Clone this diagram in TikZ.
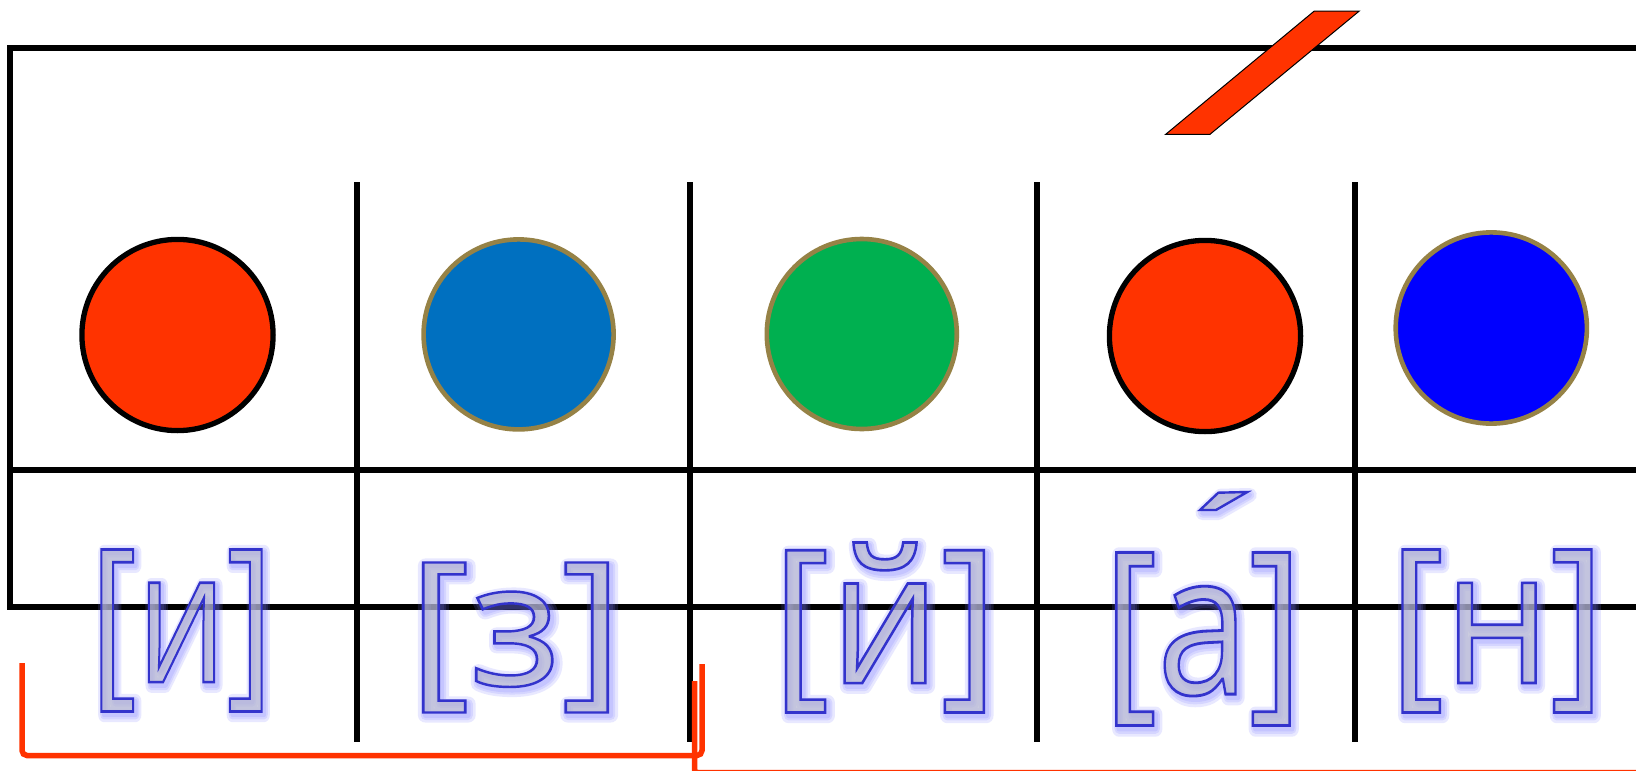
\documentclass[tikz,border=0pt]{standalone}
\usepackage{fontspec}
\setmainfont{Open Sans}
\usepackage{graphicx}
\definecolor{redor}{RGB}{255,51,0}
\definecolor{steel}{RGB}{0,112,192}
\definecolor{grn}{RGB}{0,176,80}
\definecolor{pureblue}{RGB}{0,0,255}
\definecolor{olivebd}{RGB}{150,130,70}
\definecolor{lav}{RGB}{182,183,210}
\definecolor{wablue}{RGB}{51,51,204}
\definecolor{glowblue}{RGB}{120,120,255}
\newcommand\glowtxt[1]{\rlap{\special{pdf:literal direct 0.47 0.47 1 RG 1 j 14 w 1 Tr}#1}\rlap{\special{pdf:literal direct 9 w}#1}\special{pdf:literal direct 5 w}#1\special{pdf:literal direct 0 Tr 1 w}}
\newcommand\maintxt[1]{\special{pdf:literal direct 0.2 0.2 0.8 RG 0 j 2.4 w 2 Tr}#1\special{pdf:literal direct 0 Tr 1 w}}
\newcommand\wordart[6]{%
  \begin{scope}[draw opacity=0.17]
    \node[watext, xshift=2.5pt, yshift=-3pt] (#1g) at (#2,#3) {\resizebox*{#4pt}{#5pt}{\glowtxt{#6}}};
  \end{scope}
  \begin{scope}[fill opacity=0.72]
    \node[watext] (#1) at (#2,#3) {\resizebox*{#4pt}{#5pt}{\maintxt{#6}}};
  \end{scope}}
\tikzset{
  frameline/.style={line width=5.3pt},
  redcirc/.style={line width=5.3pt, draw=black, fill=redor},
  olcirc/.style={line width=4.6pt, draw=olivebd},
  watext/.style={inner sep=0pt, text=lav, font=\fontsize{170}{170}\selectfont},
  redline/.style={draw=redor, line width=5.5pt},
}
\begin{document}
\begin{tikzpicture}[x=1pt,y=-1pt]
\useasboundingbox (0,0) rectangle (1636,771);
\fill[white] (0,0) rectangle (1636,771);
% frame and grid
\draw[frameline] (1645,48) -| (10,607) -- (1645,607);
\draw[frameline] (10,470) -- (1645,470);
\foreach \x in {357,690,1037,1355} \draw[frameline] (\x,182) -- (\x,742);
% circles
\draw[redcirc] (177.5,335) circle[radius=95.6];
\draw[olcirc, fill=steel] (518.6,334.4) circle[radius=95];
\draw[olcirc, fill=grn] (861.8,334) circle[radius=95];
\draw[redcirc] (1205,336) circle[radius=95.6];
\draw[olcirc, fill=pureblue] (1491.3,328) circle[radius=95.6];
% slash
\draw[fill=redor, draw=black, line width=1pt] (1165.7,134.3) -- (1210,134.3) -- (1359.3,11) -- (1314.3,11) -- cycle;
% word art labels
\wordart{t1}{181.5}{630.5}{183}{162}{[и]}
\wordart{t2}{515.5}{637.5}{215}{150}{[з]}
\wordart{t3}{885}{627.5}{226}{170}{[й]}
\wordart{t4}{1203}{639}{200}{173}{[а]}
\wordart{t5}{1497}{631}{216}{163}{[н]}
% accent
\begin{scope}[draw opacity=0.17, line join=round]
  \foreach \w in {14,9,5}
    \draw[glowblue, line width=\w pt, xshift=2.5pt, yshift=-3pt] (1200,510) -- (1216,510) -- (1247.3,492) -- (1218.3,492.7) -- cycle;
\end{scope}
\draw[wablue, fill=lav, fill opacity=0.72, line width=2.4pt] (1200,510) -- (1216,510) -- (1247.3,492) -- (1218.3,492.7) -- cycle;
% red brackets
\draw[redline, rounded corners=5pt] (22,663) -- (22,755.5) -- (702,755.5) -- (702,664);
\draw[redline, rounded corners=3pt] (694.5,681) -- (694.5,772.5) -- (1645,772.5);
\end{tikzpicture}
\end{document}
